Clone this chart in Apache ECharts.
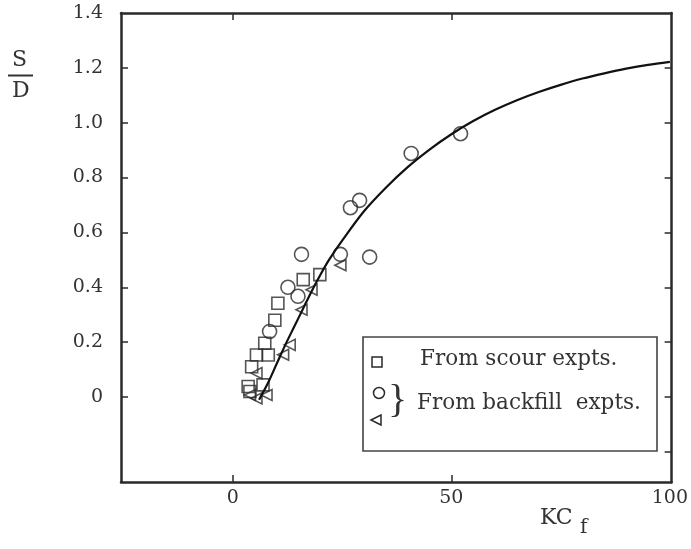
<!DOCTYPE html>
<html>
<head>
<meta charset="utf-8">
<script src="https://cdn.jsdelivr.net/npm/echarts@6/dist/echarts.min.js"></script>
<style>
  html, body { margin: 0; padding: 0; background: #fff; }
  #chart { width: 691px; height: 549px; }
</style>
</head>
<body>
<div id="chart"></div>
<script>
// values (KCf, S/D)
const scourPts = [
  [3.5, 0.038], [6.9, 0.044], [3.9, 0.02], [4.3, 0.11], [5.4, 0.153],
  [8.1, 0.153], [7.3, 0.196], [9.6, 0.28], [10.3, 0.342], [16.1, 0.428],
  [19.9, 0.446]
];
const backfillCircles = [
  [52.1, 0.96], [40.8, 0.888], [29.0, 0.717], [26.9, 0.69], [15.7, 0.52],
  [24.6, 0.52], [31.3, 0.51], [12.6, 0.40], [14.9, 0.367], [8.4, 0.239]
];
const backfillTriangles = [
  [24.6, 0.48], [18.0, 0.391], [15.7, 0.318], [13.0, 0.19], [11.5, 0.154],
  [5.4, 0.087], [3.9, 0.007], [5.4, -0.005], [7.7, 0.007]
];
const curvePts = [
  [6, -0.01], [8, 0.05], [10, 0.12], [12, 0.19], [14, 0.255], [16, 0.32],
  [18, 0.385], [20, 0.445], [22, 0.5], [25, 0.57], [30, 0.677], [35, 0.763],
  [40, 0.838], [45, 0.902], [50, 0.958], [55, 1.006], [60, 1.047], [65, 1.082],
  [70, 1.112], [75, 1.138], [80, 1.161], [85, 1.18], [90, 1.197], [95, 1.211],
  [100, 1.222]
];
const xLabels = [0, 50, 100];
const xTicks = [0, 50];
const yLabels = [0, 0.2, 0.4, 0.6, 0.8, 1.0, 1.2, 1.4];
const yTicksLeft = [0, 0.2, 0.4, 0.6, 0.8, 1.0, 1.2];
const yTicksRight = [-0.2, 0, 0.2, 0.4, 0.6, 0.8, 1.0, 1.2];

const ink = '#2a2a2a';
const font = 'DejaVu Serif';
const triPath = 'path://M0,5 L10,0 L10,10 Z';

const chart = echarts.init(document.getElementById('chart'));

const axisLine = { show: true, onZero: false, lineStyle: { color: ink, width: 2.5 } };
const tickStyle = { color: ink, width: 1.5 };

const markStyle = { color: 'rgba(0,0,0,0)', borderColor: ink, borderWidth: 1.6 };

chart.setOption({
  animation: false,
  backgroundColor: '#fff',
  grid: { left: 121, right: 18, top: 13, bottom: 67 },
  xAxis: [
    {
      type: 'value', position: 'bottom', min: -25.6, max: 100.4,
      axisLine: axisLine, splitLine: { show: false },
      axisTick: { show: true, inside: true, length: 7, customValues: xTicks, lineStyle: tickStyle },
      axisLabel: { customValues: xLabels, margin: 7, color: '#333', fontFamily: font, fontSize: 19 }
    },
    {
      type: 'value', position: 'top', min: -25.6, max: 100.4,
      axisLine: axisLine, splitLine: { show: false },
      axisTick: { show: true, inside: true, length: 7, customValues: xTicks, lineStyle: tickStyle },
      axisLabel: { show: false }
    }
  ],
  yAxis: [
    {
      type: 'value', position: 'left', min: -0.31, max: 1.4,
      axisLine: axisLine, splitLine: { show: false },
      axisTick: { show: true, inside: true, length: 7, customValues: yTicksLeft, lineStyle: tickStyle },
      axisLabel: {
        customValues: yLabels, margin: 18, color: '#333', fontFamily: font, fontSize: 19,
        formatter: v => (Math.abs(v) < 1e-9 ? '0' : v.toFixed(1))
      }
    },
    {
      type: 'value', position: 'right', min: -0.31, max: 1.4,
      axisLine: axisLine, splitLine: { show: false },
      axisTick: { show: true, inside: true, length: 7, customValues: yTicksRight, lineStyle: tickStyle },
      axisLabel: { show: false }
    }
  ],
  series: [
    {
      type: 'line', data: curvePts, smooth: 0.3, showSymbol: false, symbol: 'none',
      lineStyle: { color: '#111', width: 2.2 }, z: 3
    },
    {
      type: 'scatter', data: scourPts, symbol: 'rect', symbolSize: 12,
      itemStyle: markStyle, z: 2
    },
    {
      type: 'scatter', data: backfillCircles, symbol: 'circle', symbolSize: 14,
      itemStyle: markStyle, z: 2
    },
    {
      type: 'scatter', data: backfillTriangles, symbol: triPath, symbolSize: 11,
      itemStyle: markStyle, z: 2
    }
  ],
  graphic: [
    // S over D
    { type: 'text', left: 12, top: 49, style: { text: 'S', font: '22px "DejaVu Serif"', fill: '#333' } },
    { type: 'line', shape: { x1: 8, y1: 75.5, x2: 33, y2: 75.5 }, style: { stroke: '#333', lineWidth: 2 } },
    { type: 'text', left: 12, top: 80, style: { text: 'D', font: '22px "DejaVu Serif"', fill: '#333' } },
    // KCf
    { type: 'text', left: 540, top: 507, style: { text: 'KC', font: '22px "DejaVu Serif"', fill: '#333' } },
    { type: 'text', left: 580, top: 518, style: { text: 'f', font: '20px "DejaVu Serif"', fill: '#333' } },
    // legend box
    {
      type: 'rect', shape: { x: 363, y: 337, width: 294, height: 114 },
      style: { fill: '#fff', stroke: '#444', lineWidth: 1.6 }, z: 10
    },
    {
      type: 'rect', shape: { x: 372, y: 357, width: 10, height: 10 },
      style: { fill: 'none', stroke: ink, lineWidth: 1.5 }, z: 11
    },
    {
      type: 'circle', shape: { cx: 379, cy: 393, r: 5.5 },
      style: { fill: 'none', stroke: ink, lineWidth: 1.5 }, z: 11
    },
    {
      type: 'polygon', shape: { points: [[371, 420], [381, 415], [381, 425]] },
      style: { fill: 'none', stroke: ink, lineWidth: 1.5 }, z: 11
    },
    {
      type: 'text', left: 388, top: 381, z: 11,
      style: { text: '}', font: '40px "Liberation Serif"', fill: '#333' }
    },
    {
      type: 'text', left: 420, top: 348, z: 11,
      style: { text: 'From scour expts.', font: '21.5px "DejaVu Serif"', fill: '#333' }
    },
    {
      type: 'text', left: 417, top: 392, z: 11,
      style: { text: 'From backfill  expts.', font: '21.5px "DejaVu Serif"', fill: '#333' }
    }
  ]
});
</script>
</body>
</html>
